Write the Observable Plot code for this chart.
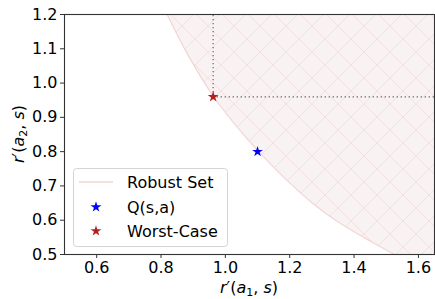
<!DOCTYPE html>
<html>
<head>
<meta charset="utf-8">
<script src="https://cdn.jsdelivr.net/npm/d3@7"></script>
<script src="https://cdn.jsdelivr.net/npm/@observablehq/plot@0.6"></script>
<style>
  html, body { margin: 0; padding: 0; background: #fff; }
  #chart { width: 435px; height: 299px; }
  svg { font-family: "DejaVu Sans", sans-serif; }
</style>
</head>
<body>
<div id="chart"></div>
<script>
// ---- data ----
const boundaryX = [0.819, 0.885, 0.965, 1.033, 1.098, 1.182, 1.272, 1.353, 1.458, 1.526];
const boundaryY = [1.200, 1.080, 0.958, 0.876, 0.806, 0.725, 0.649, 0.593, 0.535, 0.500];
const qPoint = {x: 1.1, y: 0.8};
const worstCase = {x: 0.962, y: 0.96};
const xDomain = [0.5, 1.65];
const yDomain = [0.5, 1.2];
const xTicks = [0.6, 0.8, 1.0, 1.2, 1.4, 1.6];
const yTicks = [0.5, 0.6, 0.7, 0.8, 0.9, 1.0, 1.1, 1.2];
const legendLabels = ["Robust Set", "Q(s,a)", "Worst-Case"];

const boundary = boundaryX.map((x, i) => ({x, y: boundaryY[i]}));

const W = 435, H = 299;
const mL = 64, mR = 1, mT = 14, mB = 45;

const plot = Plot.plot({
  width: W, height: H,
  marginLeft: mL, marginRight: mR, marginTop: mT, marginBottom: mB,
  style: {fontFamily: "DejaVu Sans, sans-serif", fontSize: "16px", color: "#000", background: "white"},
  x: {domain: xDomain, label: null},
  y: {domain: yDomain, label: null},
  marks: [
    Plot.areaX(boundary, {y: "y", x1: "x", x2: () => xDomain[1], fill: "url(#hatch)", curve: "catmull-rom", clip: true}),
    Plot.line(boundary, {x: "x", y: "y", stroke: "#f2d6d6", strokeWidth: 1.2, curve: "catmull-rom", clip: true}),
    Plot.ruleX([worstCase], {x: "x", y1: "y", y2: () => yDomain[1], stroke: "#666", strokeWidth: 1.2, strokeDasharray: "1.3,2.7"}),
    Plot.ruleY([worstCase], {y: "y", x1: "x", x2: () => xDomain[1], stroke: "#666", strokeWidth: 1.2, strokeDasharray: "1.3,2.7"}),
    Plot.dot([qPoint], {x: "x", y: "y", symbol: "star", r: 3.4, fill: "#0000ff", stroke: "none"}),
    Plot.dot([worstCase], {x: "x", y: "y", symbol: "star", r: 3.4, fill: "#b22222", stroke: "none"}),
    Plot.axisX({ticks: xTicks, tickFormat: d3.format(".1f"), tickSize: 4, tickPadding: 3, fontSize: 16, label: null, stroke: "#333"}),
    Plot.axisY({ticks: yTicks, tickFormat: d3.format(".1f"), tickSize: 4, tickPadding: 3, fontSize: 16, label: null, stroke: "#333"}),
    Plot.frame({stroke: "#333", strokeWidth: 1.1})
  ]
});

const svg = d3.select(plot);
svg.insert("defs", ":first-child").html(
  `<pattern id="hatch" patternUnits="userSpaceOnUse" width="26" height="26">
     <rect width="26" height="26" fill="#f9f2f2"/>
     <path d="M0,0L26,26M26,0L0,26" stroke="#f4e0e0" stroke-width="1"/>
   </pattern>`
);

// axis labels with math-like styling
const cx = mL + (W - mL - mR) / 2;
const xl = svg.append("text")
  .attr("x", cx).attr("y", 293).attr("text-anchor", "middle")
  .attr("font-size", 16).attr("fill", "#000");
xl.append("tspan").attr("font-style", "italic").text("r");
xl.append("tspan").text("′(");
xl.append("tspan").attr("font-style", "italic").text("a");
xl.append("tspan").attr("font-size", 11).attr("dy", 3).text("1");
xl.append("tspan").attr("dy", -3).text(", ");
xl.append("tspan").attr("font-style", "italic").text("s");
xl.append("tspan").text(")");

const cy = mT + (H - mT - mB) / 2;
const yl = svg.append("text")
  .attr("transform", `translate(24,${cy}) rotate(-90)`)
  .attr("text-anchor", "middle")
  .attr("font-size", 16).attr("fill", "#000");
yl.append("tspan").attr("font-style", "italic").text("r");
yl.append("tspan").text("′(");
yl.append("tspan").attr("font-style", "italic").text("a");
yl.append("tspan").attr("font-size", 11).attr("dy", 3).text("2");
yl.append("tspan").attr("dy", -3).text(", ");
yl.append("tspan").attr("font-style", "italic").text("s");
yl.append("tspan").text(")");

// legend
const lg = svg.append("g").attr("text-anchor", "start");
lg.append("rect").attr("x", 73.5).attr("y", 168.5).attr("width", 154).attr("height", 78)
  .attr("rx", 3).attr("fill", "white").attr("fill-opacity", 0.85)
  .attr("stroke", "#d4d4d4").attr("stroke-width", 1);
lg.append("line").attr("x1", 79).attr("x2", 113).attr("y1", 182).attr("y2", 182)
  .attr("stroke", "#f2d4d4").attr("stroke-width", 1.5);
const star = d3.symbol(d3.symbolStar, 3.4 * 3.4 * Math.PI);
lg.append("path").attr("d", star()).attr("transform", "translate(96,207)").attr("fill", "#0000ff");
lg.append("path").attr("d", star()).attr("transform", "translate(96,231)").attr("fill", "#b22222");
legendLabels.forEach((t, i) => {
  lg.append("text").attr("x", 127).attr("y", 188 + i * 24.5)
    .attr("text-anchor", "start")
    .attr("font-size", 16).attr("fill", "#000").text(t);
});

document.getElementById("chart").appendChild(plot);
</script>
</body>
</html>
